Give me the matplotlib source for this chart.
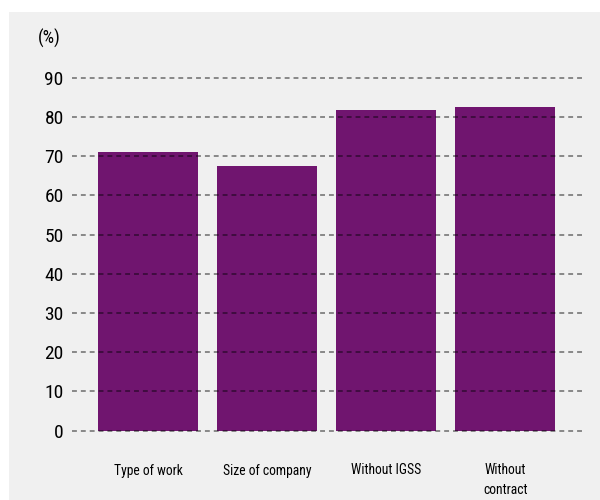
import matplotlib
matplotlib.use("Agg")
import matplotlib.pyplot as plt

categories = ["Type of work", "Size of company", "Without IGSS", "Without\ncontract"]
values = [71.2, 67.6, 81.7, 82.5]
yticks = [0, 10, 20, 30, 40, 50, 60, 70, 80, 90]

BAR_COLOR = "#70156f"
PANEL_COLOR = "#f0f0f0"
FONT = ["Liberation Sans Narrow", "Roboto Condensed", "DejaVu Sans"]

plt.rcParams["font.family"] = FONT

fig = plt.figure(figsize=(6, 5), dpi=100)
fig.patch.set_facecolor("white")

# light grey panel behind the chart
bg = fig.add_axes([9 / 600, 0, 1 - 9 / 600, 1 - 12 / 500], zorder=0)
bg.set_facecolor(PANEL_COLOR)
bg.set_xticks([])
bg.set_yticks([])
for side in bg.spines.values():
    side.set_visible(False)

ax = fig.add_axes([0.12, 0.123, 0.853, 0.7604], zorder=1)
ax.set_facecolor("none")

x = list(range(len(categories)))
ax.bar(x, values, width=0.84, color=BAR_COLOR, zorder=2)

ax.set_xlim(-0.64, 3.66)
ax.set_ylim(-2, 95)
ax.set_yticks(yticks)
ax.set_yticklabels([str(v) for v in yticks], fontsize=14)
ax.set_xticks(x)
ax.set_xticklabels(categories, fontsize=9.8, linespacing=1.5, va="top")

for v in yticks:
    ax.axhline(v, color="black", alpha=0.55, linewidth=1.1,
               linestyle=(0, (3.2, 2.6)), zorder=3)

for side in ax.spines.values():
    side.set_visible(False)
ax.tick_params(axis="both", length=0)
ax.tick_params(axis="y", pad=6)
ax.tick_params(axis="x", pad=18)

fig.text(38 / 600, 1 - 38 / 500, "(%)", fontsize=13, ha="left", va="center",
         family=FONT, zorder=2)

fig.savefig("out.png", dpi=100)
